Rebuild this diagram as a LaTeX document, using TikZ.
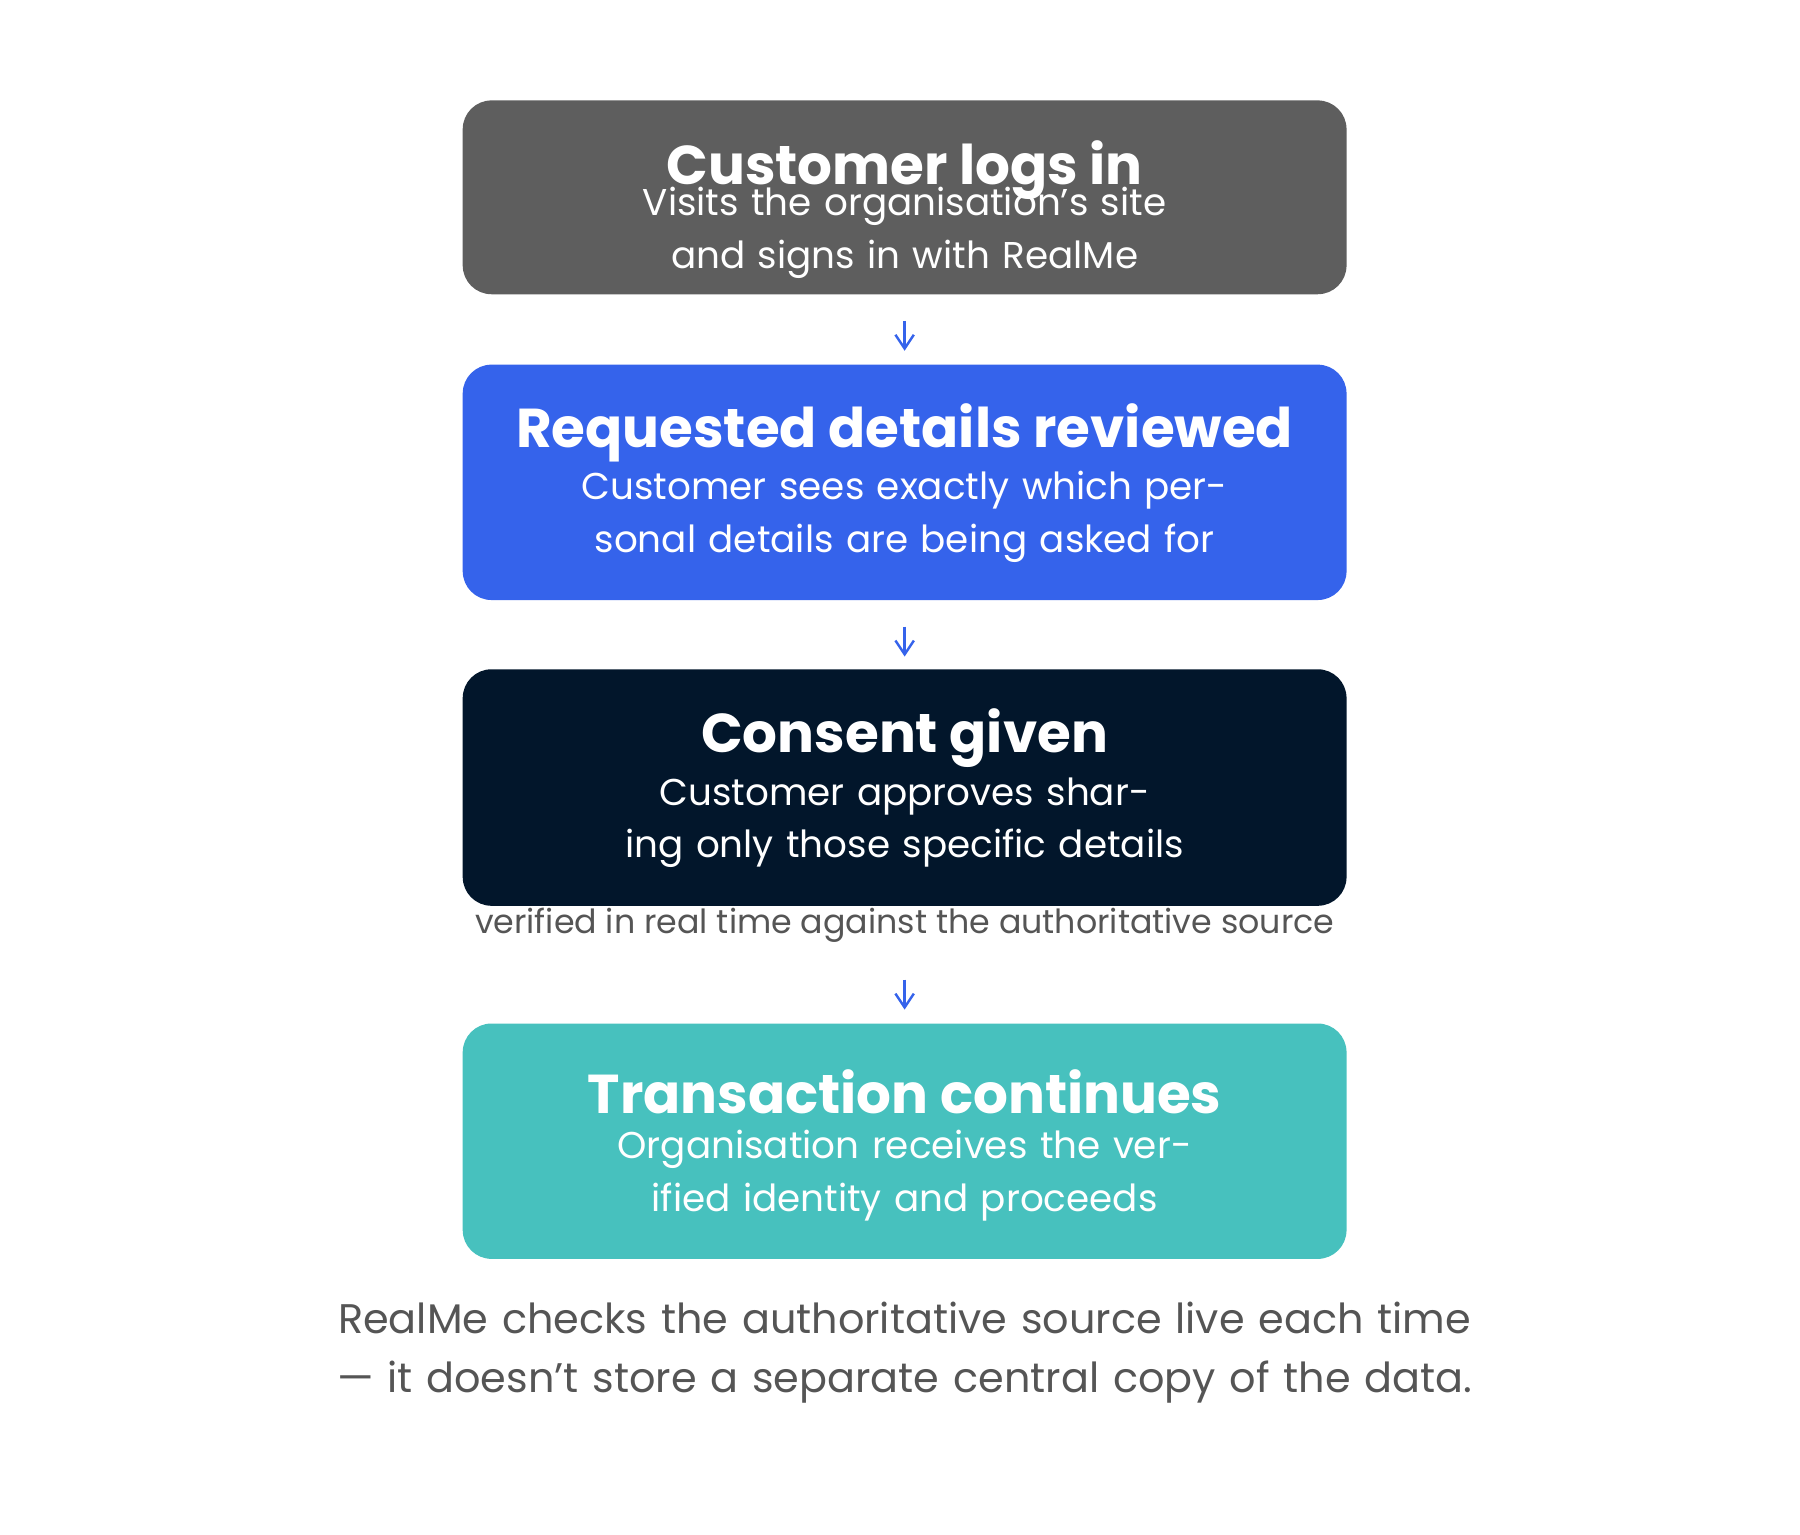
\documentclass[tikz,border=0pt]{standalone}
\usepackage{fontspec}
\setmainfont{Poppins}
\usetikzlibrary{arrows.meta,positioning}
\definecolor{stepgrey}{HTML}{5E5E5E}
\definecolor{stepblue}{HTML}{3563EB}
\definecolor{stepnavy}{HTML}{02162B}
\definecolor{stepteal}{HTML}{47C1BE}
\definecolor{notegrey}{HTML}{555555}

\begin{document}
\begin{tikzpicture}[x=1cm,y=-1cm,
    stepbox/.style={rounded corners=0.25cm, minimum width=7.66cm, inner sep=0pt},
    steptitle/.style={text=white, font=\fontsize{13.5}{16}\selectfont\bfseries},
    stepbody/.style={text=white, font=\fontsize{9.2}{13}\selectfont, align=center, text width=7cm},
    flow/.style={-{Straight Barb[length=1.2mm,width=1.6mm]}, stepblue, line width=0.6pt}]
    \useasboundingbox (0,0) rectangle (15.6,13.295);

    % Step boxes
    \node[stepbox, fill=stepgrey, minimum height=1.68cm] (login) at (7.84,1.71) {};
    \node[stepbox, fill=stepblue, minimum height=2.04cm] (review) at (7.84,4.18) {};
    \node[stepbox, fill=stepnavy, minimum height=2.05cm] (consent) at (7.84,6.825) {};
    \node[stepbox, fill=stepteal, minimum height=2.04cm] (proceed) at (7.84,9.89) {};

    % Titles and descriptions
    \node[steptitle] (loginT) at (7.84,1.47) {Customer logs in};
    \node[stepbody] (loginB) at (7.84,2.02) {Visits the organisation's site and signs in with RealMe};
    \node[steptitle] (reviewT) at (7.84,3.75) {Requested details reviewed};
    \node[stepbody] (reviewB) at (7.84,4.48) {Customer sees exactly which personal details are being asked for};
    \node[steptitle] (consentT) at (7.84,6.40) {Consent given};
    \node[stepbody] (consentB) at (7.84,7.13) {Customer approves sharing only those specific details};
    \node[steptitle] (proceedT) at (7.84,9.46) {Transaction continues};
    \node[stepbody] (proceedB) at (7.84,10.19) {Organisation receives the verified identity and proceeds};

    % Check note
    \node[text=notegrey, font=\fontsize{8.2}{10}\selectfont] (check) at (7.84,8.02) {verified in real time against the authoritative source};

    % Arrows
    \coordinate (a1) at (7.84,2.78); \coordinate (b1) at (7.84,3.04);
    \coordinate (a2) at (7.84,5.43); \coordinate (b2) at (7.84,5.69);
    \coordinate (a3) at (7.84,8.49); \coordinate (b3) at (7.84,8.75);
    \draw[flow] (a1) -- (b1);
    \draw[flow] (a2) -- (b2);
    \draw[flow] (a3) -- (b3);

    % Footer
    \node[text=notegrey, font=\fontsize{10.2}{14.5}\selectfont, align=center, text width=13.2cm] (footer) at (7.84,11.72) {RealMe checks the authoritative source live each time — it doesn't store a separate central copy of the data.};
\end{tikzpicture}
\end{document}
